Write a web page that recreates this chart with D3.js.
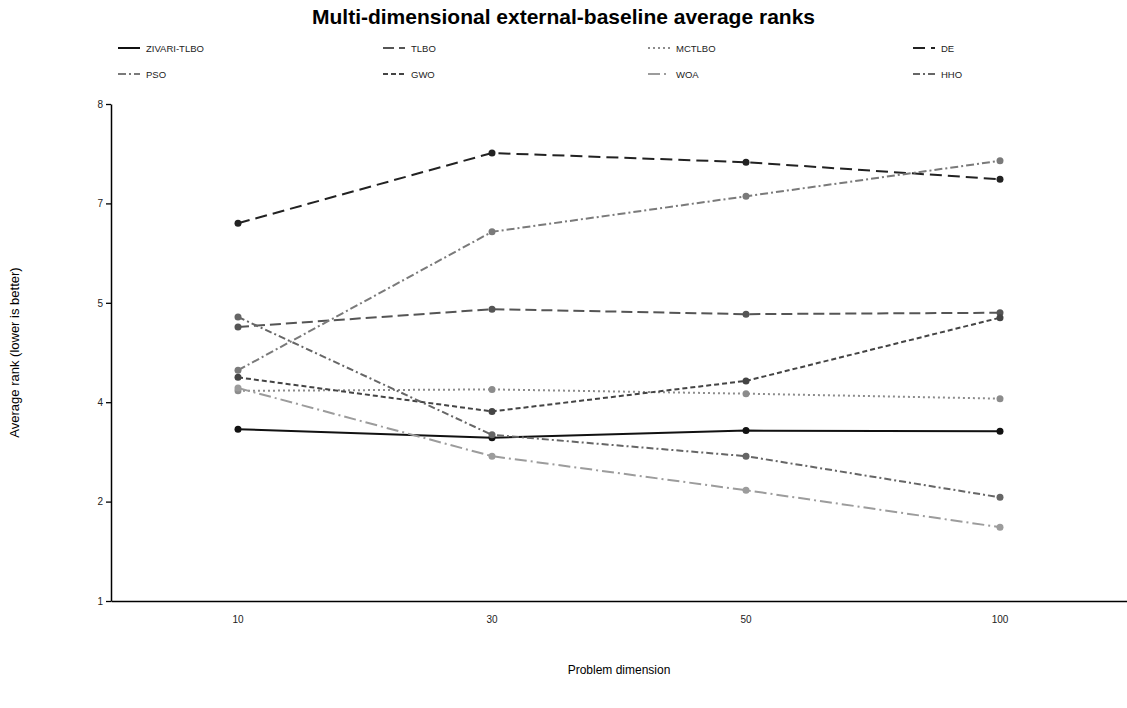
<!DOCTYPE html>
<html>
<head>
<meta charset="utf-8">
<script src="https://cdn.jsdelivr.net/npm/d3@7"></script>
<style>
  body { margin: 0; background: #fff; }
  text { font-family: "Liberation Sans", Arial, Helvetica, sans-serif; }
</style>
</head>
<body>
<div id="chart"></div>
<script>
// problem dimensions (x categories)
const dims = ["10", "30", "50", "100"];
const yTicks = [1, 2.4, 3.8, 5.2, 6.6, 8];

// average ranks per algorithm
const zivari = [3.42, 3.30, 3.40, 3.39];
const tlbo   = [4.86, 5.11, 5.04, 5.06];
const mctlbo = [3.96, 3.98, 3.92, 3.85];
const de     = [6.32, 7.31, 7.18, 6.94];
const pso    = [4.25, 6.20, 6.70, 7.20];
const gwo    = [4.15, 3.67, 4.10, 4.99];
const woa    = [4.00, 3.04, 2.56, 2.04];
const hho    = [5.00, 3.34, 3.04, 2.46];

const names = ["ZIVARI-TLBO", "TLBO", "MCTLBO", "DE", "PSO", "GWO", "WOA", "HHO"];
const values = [zivari, tlbo, mctlbo, de, pso, gwo, woa, hho];

let styles = {
    "ZIVARI-TLBO": {color: "#111111", dash: null},
    "TLBO":        {color: "#555555", dash: "11,5"},
    "MCTLBO":      {color: "#8c8c8c", dash: "2,3"},
    "DE":          {color: "#222222", dash: "12,6"},
    "PSO":         {color: "#7a7a7a", dash: "8,3,2,3"},
    "GWO":         {color: "#444444", dash: "5,3"},
    "WOA":         {color: "#9c9c9c", dash: "12,4,2,4"},
    "HHO":         {color: "#666666", dash: "7,3,2,3"}
};

let series = names.map((n, i) => ({name: n, values: values[i]}));

let W = 1127, H = 708;
let mLeft = 111, mRight = 1127, mTop = 104, mBottom = 601;

let svg = d3.select("#chart")
    .append("svg")
    .attr("width", W)
    .attr("height", H);

let x = d3.scaleBand()
    .domain(dims)
    .range([mLeft, mRight]);

let y = d3.scaleLinear()
    .domain([1, 8])
    .range([mBottom, mTop]);

// title
svg.append("text")
    .attr("x", W / 2)
    .attr("y", 24)
    .attr("text-anchor", "middle")
    .style("font-size", "21px")
    .style("font-weight", "bold")
    .text("Multi-dimensional external-baseline average ranks");

// axes
let yAxis = svg.append("g")
    .attr("transform", "translate(" + mLeft + ",0)")
    .call(d3.axisLeft(y).tickValues(yTicks).tickFormat(d3.format(".0f")).tickSize(5).tickSizeOuter(0));
yAxis.selectAll("text").style("font-size", "10px").attr("fill", "#222");
yAxis.selectAll("line").attr("stroke-width", 1.3);
yAxis.select(".domain").attr("stroke-width", 1.5);

let xAxis = svg.append("g")
    .attr("transform", "translate(0," + mBottom + ")")
    .call(d3.axisBottom(x).tickSize(0).tickSizeOuter(0).tickPadding(15));
xAxis.selectAll("text").style("font-size", "10px").attr("fill", "#222");
xAxis.select(".domain").attr("stroke-width", 1.5);

// axis labels
svg.append("text")
    .attr("x", (mLeft + mRight) / 2)
    .attr("y", 674)
    .attr("text-anchor", "middle")
    .style("font-size", "12px")
    .text("Problem dimension");

svg.append("text")
    .attr("transform", "translate(19," + ((mTop + mBottom) / 2) + ") rotate(-90)")
    .attr("text-anchor", "middle")
    .style("font-size", "13px")
    .text("Average rank (lower is better)");

// lines + markers
let line = d3.line()
    .x((d, i) => x(dims[i]) + x.bandwidth() / 2)
    .y(d => y(d));

let g = svg.append("g");

series.forEach(s => {
    let st = styles[s.name];
    g.append("path")
        .datum(s.values)
        .attr("d", line)
        .attr("fill", "none")
        .attr("stroke", st.color)
        .attr("stroke-width", 2)
        .attr("stroke-dasharray", st.dash);

    g.selectAll(null)
        .data(s.values)
        .join("circle")
        .attr("cx", (d, i) => x(dims[i]) + x.bandwidth() / 2)
        .attr("cy", d => y(d))
        .attr("r", 3.5)
        .attr("fill", st.color);
});

// legend: 2 rows x 4 columns
let legend = svg.append("g");
series.forEach((s, i) => {
    let col = i % 4, row = Math.floor(i / 4);
    let lx = 118 + col * 265, ly = 48 + row * 26;
    let st = styles[s.name];
    legend.append("line")
        .attr("x1", lx).attr("x2", lx + 22)
        .attr("y1", ly).attr("y2", ly)
        .attr("stroke", st.color)
        .attr("stroke-width", 2)
        .attr("stroke-dasharray", st.dash);
    legend.append("text")
        .attr("x", lx + 28)
        .attr("y", ly + 3.5)
        .style("font-size", "9.5px")
        .attr("fill", "#222")
        .text(s.name);
});
</script>
</body>
</html>
